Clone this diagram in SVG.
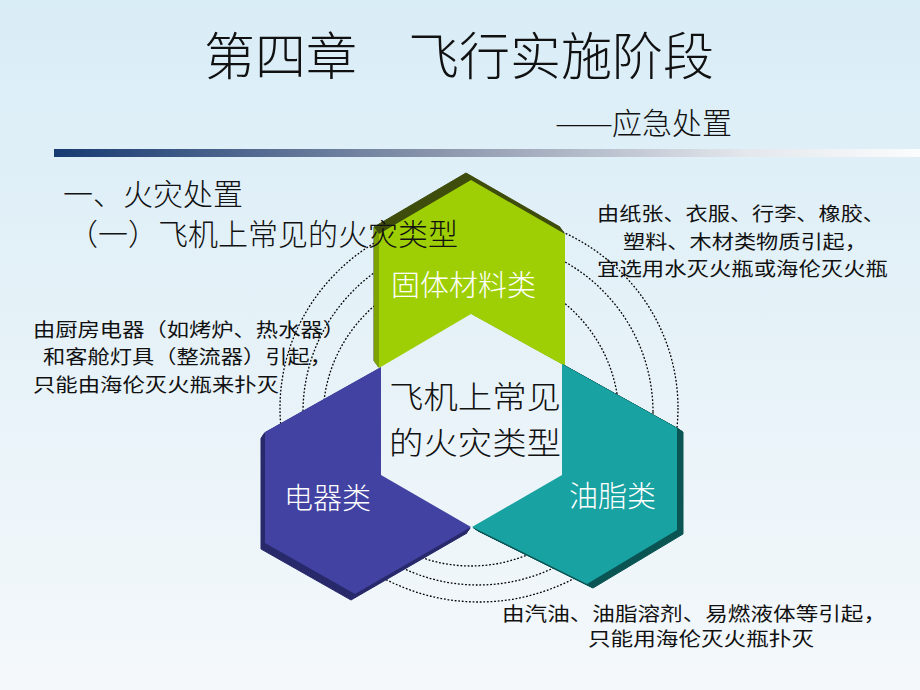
<svg xmlns="http://www.w3.org/2000/svg" xmlns:xlink="http://www.w3.org/1999/xlink" width="920" height="690" viewBox="0 0 920 690">
  <defs>
    <linearGradient id="bg" x1="0" y1="0" x2="0" y2="1">
      <stop offset="0" stop-color="#d9edf7"/>
      <stop offset="0.5" stop-color="#e6f2f8"/>
      <stop offset="1" stop-color="#f4f8fb"/>
    </linearGradient>
    <linearGradient id="bar" x1="0" y1="0" x2="1" y2="0">
      <stop offset="0" stop-color="#163a72"/>
      <stop offset="0.45" stop-color="#8c97ad"/>
      <stop offset="0.8" stop-color="#e4e7ec"/>
      <stop offset="1" stop-color="#fbfcfd"/>
    </linearGradient>
    <polygon id="pg" points="379,234 471,180 565,234 565,366 471,314 379,368"/>
    <polygon id="pb" points="381,367 381,475 471,527 355,594 265,543 265,432"/>
    <polygon id="pt" points="562,364 677,428 677,530 587,584 472,527 562,475"/>
  </defs>
  <style>
    .cjk { font-family: "Noto Sans CJK SC", "Noto Sans", sans-serif; }
    .title { font-size: 51px; fill: #111; font-weight: 300; }
    .sub { font-size: 30px; fill: #111; font-weight: 300; }
    .head { font-size: 30px; fill: #111; font-weight: 300; }
    .note { font-size: 19px; fill: #111; }
    .center { font-size: 31px; fill: #111; font-weight: 300; }
    .label { font-size: 29px; fill: #ffffff; font-weight: 300; }
    .ring { fill: none; stroke: #000; stroke-width: 1.3; stroke-dasharray: 1.8 1.8; }
  </style>

  <rect x="0" y="0" width="920" height="690" fill="url(#bg)"/>
  <rect x="54" y="149" width="866" height="8" fill="url(#bar)"/>

  <g id="title" class="cjk">
    <text class="title" x="204" y="75">第四章　飞行实施阶段</text>
    <text class="sub" x="555" y="134" font-weight="700" textLength="58" lengthAdjust="spacingAndGlyphs">——</text>
    <text class="sub" x="612" y="134">应急处置</text>
  </g>

  <g id="rings">
    <circle class="ring" cx="471" cy="418" r="148"/>
    <ellipse class="ring" cx="478" cy="412" rx="175" ry="173"/>
    <ellipse class="ring" cx="479" cy="408" rx="199" ry="194"/>
  </g>

  <g id="node-solid">
    <g fill="#3e4c0c" stroke="#3e4c0c" stroke-width="1">
      <use xlink:href="#pg" transform="translate(-1,-1.4)"/>
      <use xlink:href="#pg" transform="translate(-2,-2.8)"/>
      <use xlink:href="#pg" transform="translate(-3,-4.2)"/>
      <use xlink:href="#pg" transform="translate(-4,-5.6)"/>
      <use xlink:href="#pg" transform="translate(-5,-7)"/>
    </g>
    <polygon points="379,234 379,368 374,361 374,227" fill="#7ea300"/>
    <use xlink:href="#pg" fill="#9ecf04"/>
    <text class="cjk label" x="391" y="296">固体材料类</text>
  </g>

  <g id="node-electric">
    <g fill="#27296a" stroke="#27296a" stroke-width="1">
      <use xlink:href="#pb" transform="translate(-0.8,1.2)"/>
      <use xlink:href="#pb" transform="translate(-1.6,2.4)"/>
      <use xlink:href="#pb" transform="translate(-2.4,3.6)"/>
      <use xlink:href="#pb" transform="translate(-3.2,4.8)"/>
      <use xlink:href="#pb" transform="translate(-4,6)"/>
    </g>
    <use xlink:href="#pb" fill="#4242a2"/>
    <text class="cjk label" x="284" y="509">电器类</text>
  </g>

  <g id="node-grease">
    <g fill="#0a5454" stroke="#0a5454" stroke-width="1">
      <use xlink:href="#pt" transform="translate(1.2,0.8)"/>
      <use xlink:href="#pt" transform="translate(2.4,1.6)"/>
      <use xlink:href="#pt" transform="translate(3.6,2.4)"/>
      <use xlink:href="#pt" transform="translate(4.8,3.2)"/>
      <use xlink:href="#pt" transform="translate(6,4)"/>
    </g>
    <use xlink:href="#pt" fill="#19a2a2"/>
    <text class="cjk label" x="569" y="507">油脂类</text>
  </g>

  <g id="node-center" class="cjk">
    <text class="center" x="389" y="408" textLength="172" lengthAdjust="spacingAndGlyphs">飞机上常见</text>
    <text class="center" x="389" y="454" textLength="172" lengthAdjust="spacingAndGlyphs">的火灾类型</text>
  </g>

  <g id="heading" class="cjk">
    <text class="head" x="63" y="205">一、火灾处置</text>
    <text class="head" x="68" y="245">（一）飞机上常见的火灾类型</text>
  </g>

  <g id="note-solid" class="cjk">
    <text class="note" x="597" y="221" textLength="288" lengthAdjust="spacingAndGlyphs">由纸张、衣服、行李、橡胶、</text>
    <text class="note" x="623" y="249" textLength="244" lengthAdjust="spacingAndGlyphs">塑料、木材类物质引起，</text>
    <text class="note" x="597" y="276" textLength="291" lengthAdjust="spacingAndGlyphs">宜选用水灭火瓶或海伦灭火瓶</text>
  </g>

  <g id="note-electric" class="cjk">
    <text class="note" x="33" y="337" textLength="312" lengthAdjust="spacingAndGlyphs">由厨房电器（如烤炉、热水器）</text>
    <text class="note" x="43" y="364" textLength="289" lengthAdjust="spacingAndGlyphs">和客舱灯具（整流器）引起，</text>
    <text class="note" x="33" y="392" textLength="246" lengthAdjust="spacingAndGlyphs">只能由海伦灭火瓶来扑灭</text>
  </g>

  <g id="note-grease" class="cjk">
    <text class="note" x="502" y="621" textLength="384" lengthAdjust="spacingAndGlyphs">由汽油、油脂溶剂、易燃液体等引起，</text>
    <text class="note" x="588" y="646" textLength="226" lengthAdjust="spacingAndGlyphs">只能用海伦灭火瓶扑灭</text>
  </g>
</svg>
